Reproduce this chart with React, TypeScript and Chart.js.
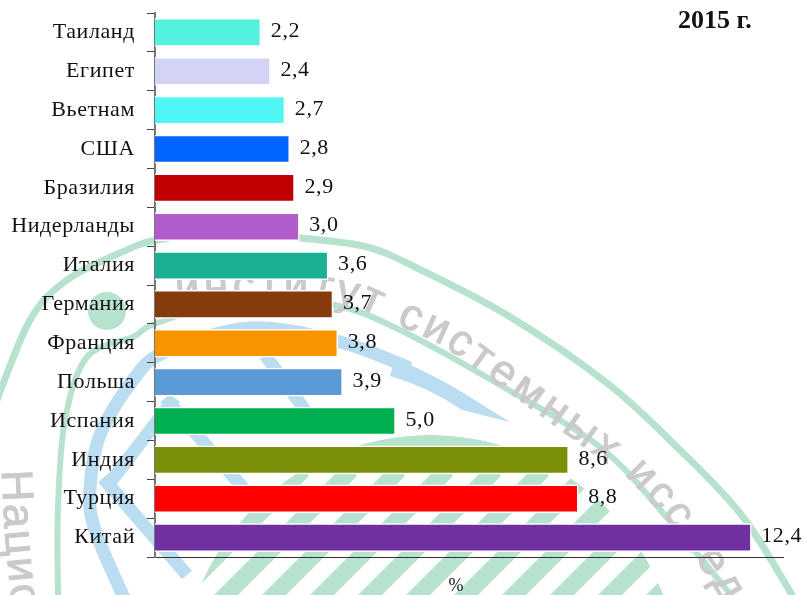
import React, { useEffect, useRef } from "react";
import { Chart, registerables } from "chart.js";

Chart.register(...registerables);

const categories = ["Таиланд", "Египет", "Вьетнам", "США", "Бразилия", "Нидерланды", "Италия", "Германия", "Франция", "Польша", "Испания", "Индия", "Турция", "Китай"];
const values = [2.2, 2.4, 2.7, 2.8, 2.9, 3.0, 3.6, 3.7, 3.8, 3.9, 5.0, 8.6, 8.8, 12.4];
const barColors = ["#52F2DE", "#D3D3F6", "#50F6F4", "#0066FF", "#C00000", "#B15CCB", "#1AB092", "#843C0C", "#F79400", "#5B9BD5", "#00B050", "#7B8F0B", "#FF0000", "#7030A0"];
const titleText = "2015 г.";
const unitText = "%";
const FONT = '"Liberation Serif", "Times New Roman", serif';

type P = [number, number];

function spline(ctx: CanvasRenderingContext2D, pts: P[]) {
  ctx.beginPath();
  ctx.moveTo(pts[0][0], pts[0][1]);
  for (let i = 0; i < pts.length - 1; i++) {
    const p0 = pts[Math.max(0, i - 1)];
    const p1 = pts[i];
    const p2 = pts[i + 1];
    const p3 = pts[Math.min(pts.length - 1, i + 2)];
    ctx.bezierCurveTo(
      p1[0] + (p2[0] - p0[0]) / 6, p1[1] + (p2[1] - p0[1]) / 6,
      p2[0] - (p3[0] - p1[0]) / 6, p2[1] - (p3[1] - p1[1]) / 6,
      p2[0], p2[1]
    );
  }
}

function textOnPath(ctx: CanvasRenderingContext2D, text: string, pts: P[], start: number, gap: number) {
  const segs = pts.slice(1).map((p, i) => Math.hypot(p[0] - pts[i][0], p[1] - pts[i][1]));
  const at = (d: number) => {
    let rest = d;
    for (let i = 0; i < segs.length; i++) {
      if (rest <= segs[i] || i === segs.length - 1) {
        const t = rest / segs[i];
        return {
          x: pts[i][0] + (pts[i + 1][0] - pts[i][0]) * t,
          y: pts[i][1] + (pts[i + 1][1] - pts[i][1]) * t,
          a: Math.atan2(pts[i + 1][1] - pts[i][1], pts[i + 1][0] - pts[i][0]),
        };
      }
      rest -= segs[i];
    }
    return { x: 0, y: 0, a: 0 };
  };
  let d = start;
  for (const ch of text) {
    const w = ctx.measureText(ch).width;
    const p = at(d + w / 2);
    ctx.save();
    ctx.translate(p.x, p.y);
    ctx.rotate(p.a);
    ctx.fillText(ch, -w / 2, 0);
    ctx.strokeText(ch, -w / 2, 0);
    ctx.restore();
    d += w + gap;
  }
}

const watermark = {
  id: "watermark",
  beforeDraw(chart: any) {
    const ctx: CanvasRenderingContext2D = chart.ctx;
    const green = "#B7E2CE";
    const blue = "#BADDF2";
    ctx.save();
    ctx.lineCap = "butt";

    // rings
    ctx.strokeStyle = green;
    ctx.lineWidth = 7;
    spline(ctx, [[-5, 405], [30, 320], [67, 280], [120, 253], [157, 240], [230, 232], [300, 238], [367, 247], [417, 268], [507, 315], [607, 383], [680, 450], [743, 517], [795, 600]]);
    ctx.stroke();
    ctx.lineWidth = 6;
    spline(ctx, [[58, 600], [58, 507], [65, 420], [87, 357], [133, 337], [157, 323], [250, 296], [335, 305], [400, 330], [500, 385], [600, 447], [663, 513], [735, 600]]);
    ctx.stroke();

    // disc
    ctx.fillStyle = green;
    ctx.beginPath();
    ctx.arc(107, 311, 19, 0, Math.PI * 2);
    ctx.fill();

    // blue ring and star
    ctx.strokeStyle = blue;
    ctx.lineWidth = 13;
    spline(ctx, [[125, 600], [95, 530], [90, 490], [100, 435], [133, 380], [165, 352], [250, 328], [340, 342], [410, 368]]);
    ctx.stroke();
    ctx.fillStyle = blue;
    ctx.beginPath();
    ctx.moveTo(395, 358);
    ctx.quadraticCurveTo(440, 378, 465, 394);
    ctx.lineTo(510, 422);
    ctx.lineTo(462, 410);
    ctx.quadraticCurveTo(430, 388, 390, 376);
    ctx.closePath();
    ctx.fill();
    ctx.lineWidth = 13;
    for (const [a, b] of [[[103, 478], [187, 575]], [[165, 398], [245, 490]], [[265, 355], [305, 410]]] as P[][]) {
      ctx.beginPath();
      ctx.moveTo(a[0], a[1]);
      ctx.lineTo(b[0], b[1]);
      ctx.stroke();
    }
    ctx.beginPath();
    ctx.moveTo(175, 398);
    ctx.lineTo(108, 485);
    ctx.stroke();

    // green dome with stripes
    ctx.save();
    ctx.beginPath();
    ctx.arc(430, 685, 250, 0, Math.PI * 2);
    ctx.clip();
    ctx.strokeStyle = green;
    ctx.lineWidth = 12;
    ctx.beginPath();
    ctx.arc(430, 685, 244, (-115 * Math.PI) / 180, (-62 * Math.PI) / 180);
    ctx.stroke();
    ctx.lineWidth = 17;
    ctx.beginPath();
    for (let x = 207; x < 860; x += 48) {
      ctx.moveTo(x, 470);
      ctx.lineTo(x - 150, 620);
    }
    ctx.stroke();
    ctx.restore();

    // curved letters
    ctx.fillStyle = "#CACACA";
    ctx.strokeStyle = "#CACACA";
    ctx.lineWidth = 1;
    ctx.font = '44px "Liberation Sans", Arial, sans-serif';
    ctx.textBaseline = "middle";
    textOnPath(ctx, "институт системных исследований", [[130, 294], [250, 287], [320, 287], [365, 297], [410, 317], [450, 335], [613, 453], [640, 473], [673, 507], [720, 573], [770, 660]], 45, 4.5);
    textOnPath(ctx, "Национальный", [[14, 470], [17, 533], [23, 595], [32, 660]], 0, 2);
    ctx.restore();
    (ctx as any).letterSpacing = "0.6px";
  },
};

const overlay = {
  id: "overlay",
  afterDraw(chart: any) {
    const ctx: CanvasRenderingContext2D = chart.ctx;
    const meta = chart.getDatasetMeta(0);
    ctx.save();
    ctx.fillStyle = "#111";
    ctx.font = `22px ${FONT}`;
    ctx.textAlign = "left";
    ctx.textBaseline = "middle";
    values.forEach((v, i) => {
      const el = meta.data[i];
      ctx.fillText(v.toFixed(1).replace(".", ","), el.x + 10, el.y - 1);
    });
    (ctx as any).letterSpacing = "0px";
    ctx.font = `bold 26px ${FONT}`;
    ctx.fillText(titleText, 678, 21);
    ctx.font = `18px ${FONT}`;
    ctx.textAlign = "center";
    ctx.fillText(unitText, 456, 586);
    ctx.restore();
  },
};

export default function App() {
  const ref = useRef<HTMLCanvasElement>(null);
  useEffect(() => {
    const chart = new Chart(ref.current!, {
      type: "bar",
      data: {
        labels: categories,
        datasets: [{
          data: values,
          backgroundColor: barColors,
          borderColor: "#FFFFFF",
          borderWidth: 1.5,
          barThickness: 28,
        }],
      },
      options: {
        indexAxis: "y",
        responsive: false,
        animation: false,
        layout: { padding: { top: 13, right: 23, left: 0, bottom: 0 } },
        plugins: { legend: { display: false }, tooltip: { enabled: false } },
        scales: {
          x: {
            min: 0,
            max: 13.06,
            ticks: { display: false },
            grid: { display: false },
            border: { color: "#333", width: 1 },
            afterFit: (s: any) => { s.height = 38; },
          },
          y: {
            ticks: {
              color: "#111",
              padding: 12,
              autoSkip: false,
              font: { family: FONT, size: 22 },
            },
            grid: { drawOnChartArea: false, drawTicks: true, tickLength: 8, color: "#444" },
            border: { color: "#777", width: 2 },
            afterFit: (s: any) => { s.width = 155; s.paddingTop = 0; s.paddingBottom = 0; },
          },
        },
      },
      plugins: [watermark, overlay],
    } as any);
    return () => chart.destroy();
  }, []);
  return (
    <div style={{ position: "fixed", left: 0, top: 0, width: 806, height: 595, background: "#fff" }}>
      <canvas ref={ref} width={806} height={595} style={{ display: "block" }} />
    </div>
  );
}
